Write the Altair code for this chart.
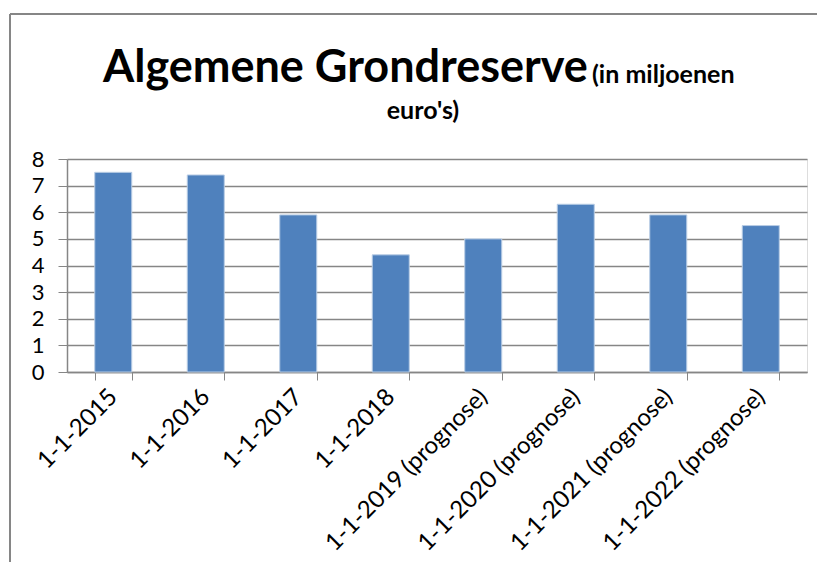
import altair as alt
import pandas as pd

categories = ["1-1-2015", "1-1-2016", "1-1-2017", "1-1-2018",
              "1-1-2019 (prognose)", "1-1-2020 (prognose)",
              "1-1-2021 (prognose)", "1-1-2022 (prognose)"]
values = [7.5, 7.4, 5.9, 4.4, 5.0, 6.3, 5.9, 5.5]
y_ticks = [0, 1, 2, 3, 4, 5, 6, 7, 8]

title_main = "Algemene Grondreserve"
title_sub1 = "(in miljoenen"
title_sub2 = "euro's)"

FONT = "Lato"
W, H = 740, 213

df = pd.DataFrame({"cat": categories, "val": values})

bars = alt.Chart(df).mark_bar(
    color="#4F81BD", stroke="#B9CDE5", strokeWidth=1
).encode(
    x=alt.X("cat:N", sort=categories, title=None,
            scale=alt.Scale(paddingInner=0.6, paddingOuter=0.3),
            axis=alt.Axis(labelAngle=-45, labelFontSize=24, labelFont=FONT,
                          labelColor="#000000", labelAlign="right",
                          labelBaseline="middle", labelPadding=13,
                          tickBand="extent", tickSize=8, tickColor="#868686",
                          domainColor="#868686", domainWidth=1.5,
                          labelLimit=400, labelOverlap=False)),
    y=alt.Y("val:Q", title=None,
            scale=alt.Scale(domain=[0, 8], nice=False),
            axis=alt.Axis(values=y_ticks, labelFontSize=22, labelFont=FONT,
                          labelColor="#000000", tickSize=9, tickColor="#868686",
                          labelPadding=14, domainColor="#868686", domainWidth=1.5,
                          gridColor="#868686", gridWidth=1.5)),
)

t1 = alt.Chart(pd.DataFrame({"t": [title_main]})).mark_text(
    font=FONT, fontSize=45, fontWeight="bold", align="left", baseline="alphabetic",
    color="#000000"
).encode(text="t:N", x=alt.value(36), y=alt.value(-77))

t2 = alt.Chart(pd.DataFrame({"t": [title_sub1]})).mark_text(
    font=FONT, fontSize=25, fontWeight="bold", align="left", baseline="alphabetic",
    color="#000000"
).encode(text="t:N", x=alt.value(525), y=alt.value(-76))

t3 = alt.Chart(pd.DataFrame({"t": [title_sub2]})).mark_text(
    font=FONT, fontSize=25, fontWeight="bold", align="center", baseline="alphabetic",
    color="#000000"
).encode(text="t:N", x=alt.value(356), y=alt.value(-40))

frame_top = alt.Chart(pd.DataFrame({"k": [0]})).mark_rule(
    color="#868686", strokeWidth=2
).encode(x=alt.value(-57), x2=alt.value(770), y=alt.value(-145))

frame_left = alt.Chart(pd.DataFrame({"k": [0]})).mark_rule(
    color="#868686", strokeWidth=2
).encode(x=alt.value(-57), y=alt.value(-145), y2=alt.value(420))

chart = alt.layer(bars, t1, t2, t3, frame_top, frame_left).properties(
    width=W, height=H,
    autosize=alt.AutoSizeParams(type="none"),
    padding={"left": 59, "top": 151, "right": 10, "bottom": 190},
).configure_view(stroke=None).configure(background="#FFFFFF")

chart.save("out.html", embed_options={"renderer": "svg", "actions": False})
